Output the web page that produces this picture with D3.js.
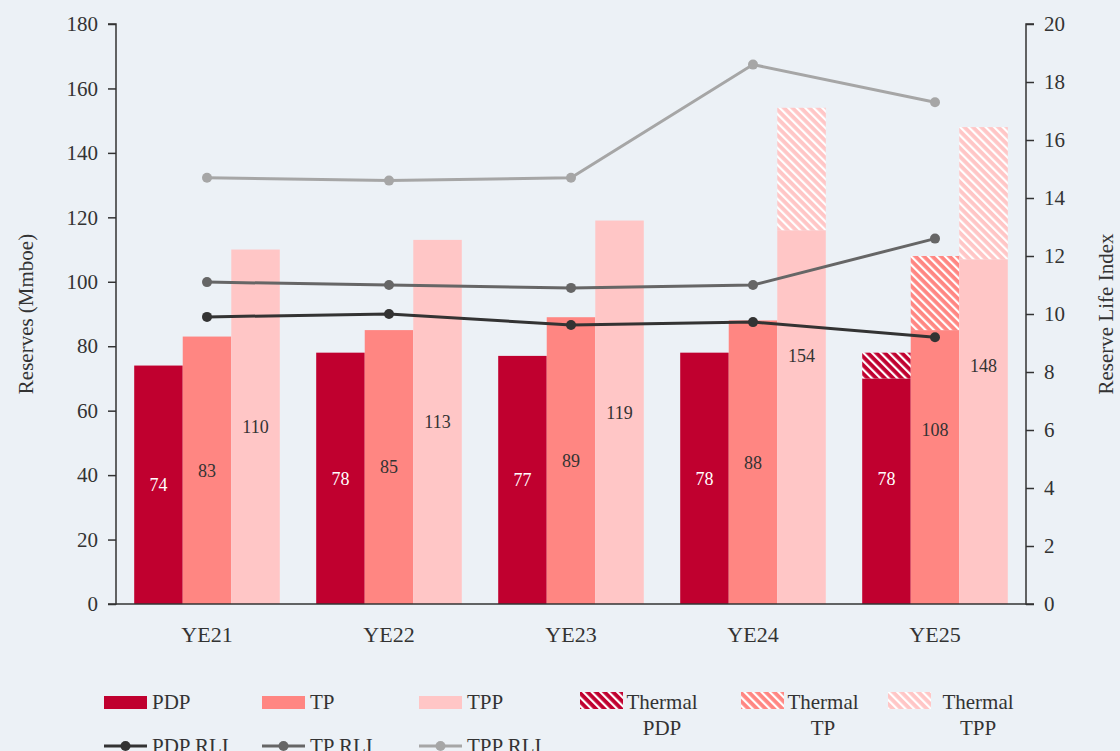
<!DOCTYPE html>
<html><head><meta charset="utf-8">
<script src="https://cdn.jsdelivr.net/npm/d3@7"></script>
<style>
html,body{margin:0;padding:0;background:#ECF1F6;}
svg{display:block;}
text{font-family:"Liberation Serif","DejaVu Serif",serif;fill:#333;}
</style></head><body>
<svg id="chart" width="1120" height="751"></svg>
<script>
const categories = ["YE21","YE22","YE23","YE24","YE25"];
const pdp        = [74, 78, 77, 78, 70];
const pdpThermal = [0, 0, 0, 0, 8];
const tp         = [83, 85, 89, 88, 85];
const tpThermal  = [0, 0, 0, 0, 23];
const tpp        = [110, 113, 119, 116, 107];
const tppThermal = [0, 0, 0, 38, 41];
const pdpRLI = [9.9, 10.0, 9.62, 9.72, 9.2];
const tpRLI  = [11.1, 11.0, 10.9, 11.0, 12.6];
const tppRLI = [14.7, 14.6, 14.7, 18.6, 17.3];
const leftTicks  = [0,20,40,60,80,100,120,140,160,180];
const rightTicks = [0,2,4,6,8,10,12,14,16,18,20];

const colors = {PDP:"#C0002F", TP:"#FF8682", TPP:"#FFC6C6"};
const lineColors = {PDP:"#333333", TP:"#666666", TPP:"#A6A6A6"};

const svg = d3.select("#chart");
const W = 1120, H = 751;
const m = {left:116, right:1026, top:24, bottom:604};

const x = d3.scaleBand().domain(categories).range([m.left, m.right]).paddingInner(0.2).paddingOuter(0.1);
const series = ["PDP","TP","TPP"];
const xs = d3.scaleBand().domain(series).range([0, x.bandwidth()]);
const y = d3.scaleLinear().domain([0,180]).range([m.bottom, m.top]);
const y2 = d3.scaleLinear().domain([0,20]).range([m.bottom, m.top]);

// patterns
const defs = svg.append("defs");
series.forEach(s => {
  const p = defs.append("pattern").attr("id","hatch"+s)
    .attr("patternUnits","userSpaceOnUse").attr("width",6).attr("height",6)
    .attr("patternTransform","rotate(-45)");
  p.append("rect").attr("width",6).attr("height",6).attr("fill",colors[s]);
  p.append("rect").attr("x",0).attr("width",2.2).attr("height",6).attr("fill","#fff");
});

const base = {PDP:pdp, TP:tp, TPP:tpp};
const therm = {PDP:pdpThermal, TP:tpThermal, TPP:tppThermal};

const g = svg.append("g");
categories.forEach((c,i) => {
  series.forEach(s => {
    const x0 = x(c) + xs(s), w = xs.bandwidth();
    const b = base[s][i], t = therm[s][i];
    g.append("rect").attr("x",x0).attr("width",w)
      .attr("y",y(b)).attr("height",y(0)-y(b)).attr("fill",colors[s]);
    if (t > 0) {
      g.append("rect").attr("x",x0).attr("width",w)
        .attr("y",y(b+t)).attr("height",y(b)-y(b+t)).attr("fill","url(#hatch"+s+")");
    }
    const tot = b + t;
    g.append("text").attr("x",x0+w/2).attr("y",y(tot/2)).attr("dy","0.35em")
      .attr("text-anchor","middle").style("font-size","18px")
      .style("fill", s==="PDP" ? "#fff" : "#333").text(tot);
  });
});

// axes
const axL = d3.axisLeft(y).tickValues(leftTicks).tickSize(8).tickPadding(10);
const gl = svg.append("g").attr("transform",`translate(${m.left},0)`).call(axL);
const axR = d3.axisRight(y2).tickValues(rightTicks).tickSize(8).tickPadding(10);
const gr = svg.append("g").attr("transform",`translate(${m.right},0)`).call(axR);
const axB = d3.axisBottom(x).tickSize(0).tickPadding(22);
const gb = svg.append("g").attr("transform",`translate(0,${m.bottom})`).call(axB);
[gl,gr,gb].forEach(a => {
  a.selectAll("path").attr("stroke","#333").attr("stroke-width",1.5);
  a.selectAll("line").attr("stroke","#333").attr("stroke-width",1.5);
  a.selectAll("text").style("font-family","Liberation Serif, serif").style("font-size","21px").attr("fill","#333");
});
gl.select("path").attr("d",`M-8,${m.top}H0V${m.bottom}H-8`);
gr.select("path").attr("d",`M8,${m.top}H0V${m.bottom}H8`);
gb.select("path").attr("d",`M${m.left},0H${m.right}`);
gb.selectAll("text").style("font-size","22px");

svg.append("text").attr("transform",`translate(33,${(m.top+m.bottom)/2}) rotate(-90)`)
  .attr("text-anchor","middle").style("font-size","21px").text("Reserves (Mmboe)");
svg.append("text").attr("transform",`translate(1113,${(m.top+m.bottom)/2}) rotate(-90)`)
  .attr("text-anchor","middle").style("font-size","21px").text("Reserve Life Index");

// lines
const rli = {PDP:pdpRLI, TP:tpRLI, TPP:tppRLI};
const cx = c => x(c) + x.bandwidth()/2;
const line = d3.line().x((d,i)=>cx(categories[i])).y(d=>y2(d));
["TPP","TP","PDP"].forEach(s => {
  svg.append("path").datum(rli[s]).attr("d",line).attr("fill","none")
    .attr("stroke",lineColors[s]).attr("stroke-width",3);
  svg.selectAll(null).data(rli[s]).enter().append("circle")
    .attr("cx",(d,i)=>cx(categories[i])).attr("cy",d=>y2(d)).attr("r",5)
    .attr("fill",lineColors[s]);
});

// legend
const lg = svg.append("g");
const colX = [104, 262, 419, 580, 741, 888];
series.forEach((s,i) => {
  lg.append("rect").attr("x",colX[i]).attr("y",696).attr("width",43).attr("height",13).attr("fill",colors[s]);
  lg.append("text").attr("x",colX[i]+48).attr("y",702).attr("dy","0.35em").style("font-size","21px").text(s);
});
series.forEach((s,i) => {
  const xx = colX[i+3];
  lg.append("rect").attr("x",xx).attr("y",692).attr("width",43).attr("height",17).attr("fill","url(#hatch"+s+")");
  const tx = xx + 43 + (i===2 ? 10 : 2);
  lg.append("text").attr("x",tx + 37).attr("y",702).attr("dy","0.35em").attr("text-anchor","middle").style("font-size","21px").text("Thermal");
  lg.append("text").attr("x",tx + 37).attr("y",728).attr("dy","0.35em").attr("text-anchor","middle").style("font-size","21px").text(s);
});
series.forEach((s,i) => {
  lg.append("line").attr("x1",colX[i]).attr("x2",colX[i]+43).attr("y1",746).attr("y2",746)
    .attr("stroke",lineColors[s]).attr("stroke-width",3);
  lg.append("circle").attr("cx",colX[i]+21.5).attr("cy",746).attr("r",5).attr("fill",lineColors[s]);
  lg.append("text").attr("x",colX[i]+48).attr("y",746).attr("dy","0.35em").style("font-size","21px").text(s+" RLI");
});
</script>
</body></html>
